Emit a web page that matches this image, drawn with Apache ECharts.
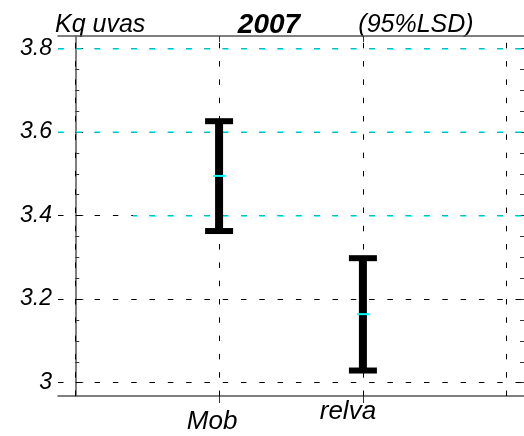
<!DOCTYPE html>
<html><head><meta charset="utf-8">
<script src="https://cdn.jsdelivr.net/npm/echarts@6/dist/echarts.min.js"></script>
<style>html,body{margin:0;padding:0;background:#fff}#c{width:524px;height:436px}</style>
</head><body><div id="c"></div>
<script>
// ---- data ----
const categories = ['Mob', 'relva'];
const means = [3.495, 3.164];
const lower = [3.363, 3.029];
const upper = [3.626, 3.298];
const yTicks = [3.0, 3.2, 3.4, 3.6, 3.8];
const yMinorTicks = [3.05, 3.1, 3.15, 3.25, 3.3, 3.35, 3.45, 3.5, 3.55, 3.65, 3.7, 3.75];
const xGrid = [0, 1, 2, 3];
const cyanLevels = [3.8, 3.6, 3.4];
const cyanStart = [-0.12, -0.12, 0.4];
const titleLeft = 'Kq uvas', titleMid = '2007', titleRight = '(95%LSD)';

const XMIN = -0.12, XMAX = 3.12, YMIN = 2.968, YMAX = 3.83;
const GRID = {left: 58, right: 0, top: 36, bottom: 40};
const W = 524;
const FONT = '"Liberation Sans", Arial, sans-serif';
const DASH = [5.5, 12.8];
const catPos = categories.map((c, i) => i + 1);
const pxPerX = (W - GRID.left - GRID.right) / (XMAX - XMIN);

const chart = echarts.init(document.getElementById('c'), null, {renderer: 'canvas'});

const gridLines = [];
xGrid.forEach(v => gridLines.push([{coord: [v, YMIN]}, {coord: [v, YMAX]}]));
yTicks.forEach(v => gridLines.push([{coord: [XMIN, v]}, {coord: [XMAX, v]}]));
const cyanLines = cyanLevels.map((v, i) => [
  {coord: [cyanStart[i], v], lineStyle: {color: '#00ffff', type: DASH, width: 1.5, dashOffset: (cyanStart[i] - XMIN) * pxPerX}},
  {coord: [XMAX, v]}
]);

const axisLineStyle = {color: '#555', width: 1.5};
const tickStyle = {color: '#333', width: 1};
const labStyle = {fontSize: 26, fontStyle: 'italic', fontFamily: FONT, color: '#000'};

const option = {
  animation: false,
  backgroundColor: '#fff',
  grid: Object.assign({containLabel: false}, GRID),
  xAxis: [
    {type: 'value', position: 'bottom', min: XMIN, max: XMAX,
     axisLine: {show: true, lineStyle: axisLineStyle},
     axisTick: {show: true, customValues: catPos, inside: false, length: 7, lineStyle: tickStyle},
     axisLabel: {show: true, customValues: catPos, margin: 3,
       formatter: v => { const i = Math.round(v) - 1; return '{l' + i + '|' + categories[i] + '}'; },
       rich: {
         l0: Object.assign({padding: [10, 14, 0, 0]}, labStyle),
         l1: Object.assign({padding: [0, 30, 0, 0]}, labStyle)
       }},
     splitLine: {show: false}},
    {type: 'value', position: 'top', min: XMIN, max: XMAX,
     axisLine: {show: true, lineStyle: axisLineStyle},
     axisTick: {show: true, customValues: catPos, inside: true, length: 6, lineStyle: tickStyle},
     axisLabel: {show: false}, splitLine: {show: false}}
  ],
  yAxis: [
    {type: 'value', position: 'left', min: YMIN, max: YMAX,
     axisLine: {show: true, lineStyle: axisLineStyle},
     axisTick: {show: true, customValues: yTicks, inside: true, length: 8, lineStyle: tickStyle},
     axisLabel: {show: true, customValues: yTicks, margin: 6, fontSize: 23, fontStyle: 'italic', fontFamily: FONT, color: '#000',
       formatter: v => String(Math.round(v * 10) / 10)},
     splitLine: {show: false}},
    {type: 'value', position: 'left', min: YMIN, max: YMAX,
     axisLine: {show: false},
     axisTick: {show: true, customValues: yMinorTicks, inside: true, length: 4, lineStyle: tickStyle},
     axisLabel: {show: false}, splitLine: {show: false}},
    {type: 'value', position: 'right', min: YMIN, max: YMAX,
     axisLine: {show: false},
     axisTick: {show: true, customValues: yTicks, inside: true, length: 8, lineStyle: tickStyle},
     axisLabel: {show: false}, splitLine: {show: false}},
    {type: 'value', position: 'right', min: YMIN, max: YMAX,
     axisLine: {show: false},
     axisTick: {show: true, customValues: yMinorTicks, inside: true, length: 4, lineStyle: tickStyle},
     axisLabel: {show: false}, splitLine: {show: false}}
  ],
  graphic: [
    {type: 'text', x: 55, y: 25, style: {text: titleLeft, textAlign: 'left', textVerticalAlign: 'middle', font: 'italic 25px ' + FONT, fill: '#000'}},
    {type: 'text', x: 269, y: 25, style: {text: titleMid, textAlign: 'center', textVerticalAlign: 'middle', font: 'italic bold 28px ' + FONT, fill: '#000'}},
    {type: 'text', x: 416, y: 25, style: {text: titleRight, textAlign: 'center', textVerticalAlign: 'middle', font: 'italic 25px ' + FONT, fill: '#000'}}
  ],
  series: [
    {type: 'line', data: [], xAxisIndex: 0, yAxisIndex: 0, z: 1, silent: true,
     markLine: {silent: true, symbol: ['none', 'none'], label: {show: false}, animation: false,
       lineStyle: {color: '#000', type: DASH, width: 1}, data: gridLines}},
    {type: 'line', data: [], xAxisIndex: 0, yAxisIndex: 0, z: 2, silent: true,
     markLine: {silent: true, symbol: ['none', 'none'], label: {show: false}, animation: false,
       lineStyle: {color: '#00ffff', type: DASH, width: 1.5}, data: cyanLines}},
    {type: 'custom', xAxisIndex: 0, yAxisIndex: 0, z: 5,
     data: categories.map((c, i) => [catPos[i], lower[i], upper[i], means[i]]),
     renderItem: function (params, api) {
       const x = api.value(0);
       const pLo = api.coord([x, api.value(1)]);
       const pHi = api.coord([x, api.value(2)]);
       const pM = api.coord([x, api.value(3)]);
       const capW = 14, barW = 8, capH = 6;
       return {type: 'group', children: [
         {type: 'rect', shape: {x: pHi[0] - barW / 2, y: pHi[1], width: barW, height: pLo[1] - pHi[1]}, style: {fill: '#000'}},
         {type: 'rect', shape: {x: pHi[0] - capW, y: pHi[1] - capH / 2, width: capW * 2, height: capH}, style: {fill: '#000'}},
         {type: 'rect', shape: {x: pLo[0] - capW, y: pLo[1] - capH / 2, width: capW * 2, height: capH}, style: {fill: '#000'}},
         {type: 'line', shape: {x1: pM[0] - 6, y1: pM[1], x2: pM[0] + 6, y2: pM[1]}, style: {stroke: '#00ffff', lineWidth: 2}}
       ]};
     }}
  ]
};
chart.setOption(option);
</script></body></html>
